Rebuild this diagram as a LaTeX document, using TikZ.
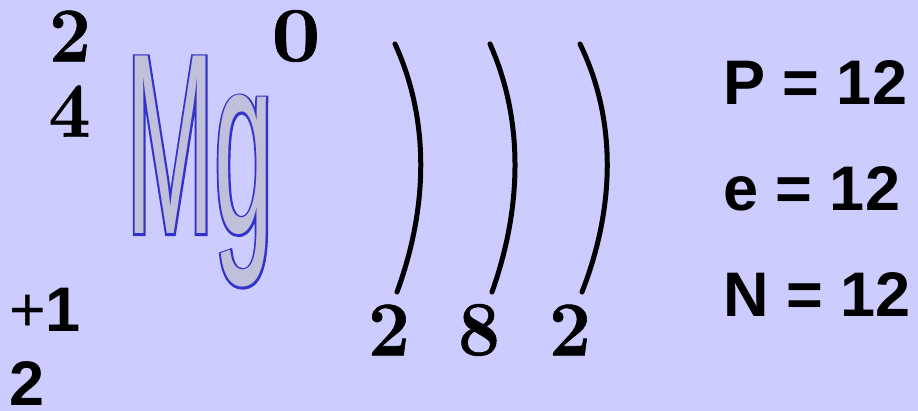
\documentclass[tikz,border=0pt]{standalone}
\usepackage{fontspec}
\newfontfamily\arialfont{Liberation Sans}
\newfontfamily\mgoutline[FakeStretch=0.41, FakeBold=1.6]{Liberation Sans}
\newfontfamily\mgfont[FakeStretch=0.41]{Liberation Sans}
\newfontfamily\digitfont[BoldFeatures={FakeBold=0.8}]{Latin Modern Roman}
\definecolor{bgcol}{RGB}{204,204,255}
\definecolor{mgfill}{RGB}{192,192,218}
\definecolor{mgblue}{RGB}{51,51,204}
\tikzset{
  serifdigit/.style={inner sep=0pt, font=\digitfont\bfseries\fontsize{62}{62}\selectfont, xscale=1.2, yscale=1.25},
  sanslabel/.style={inner sep=0pt, anchor=base west, font=\arialfont\bfseries\fontsize{63}{63}\selectfont},
  shell/.style={line width=5pt, line cap=round}
}
\begin{document}
\begin{tikzpicture}[x=1pt,y=-1pt]
\useasboundingbox (0,0) rectangle (918,411);
\fill[bgcol] (0,0) rectangle (918,411);
% numbers around symbol
\node[serifdigit] (mass) at (70,36) {2};
\node[serifdigit] (four) at (69.5,111) {4};
\node[serifdigit, xscale=1.4/1.2] (ox) at (296,36) {0};
% symbol
\node[inner sep=0pt, anchor=base west, font=\fontsize{258}{258}\selectfont] (mg) at (126,234)
  {\rlap{\mgoutline\textcolor{mgblue}{Mg}}\mgfont\textcolor{mgfill}{Mg}};
% bottom-left
\node[sanslabel] (charge) at (9,332) {{\mdseries +}1};
\node[sanslabel] (two) at (9,406) {2};
% shells
\coordinate (a1) at (395,44); \coordinate (a2) at (397,292);
\coordinate (b1) at (490,44); \coordinate (b2) at (492,292);
\coordinate (c1) at (580,44); \coordinate (c2) at (582,292);
\draw[shell] (a1) .. controls (429,118) and (429,205) .. (a2);
\draw[shell] (b1) .. controls (523,118) and (523,205) .. (b2);
\draw[shell] (c1) .. controls (616,118) and (616,205) .. (c2);
\node[serifdigit] (e1) at (389,330) {2};
\node[serifdigit] (e2) at (479,330) {8};
\node[serifdigit] (e3) at (570,330) {2};
% right
\node[sanslabel] (p) at (723,105) {P = 12};
\node[sanslabel] (e) at (723,211) {e = 12};
\node[sanslabel] (n) at (723,317) {N = 12};
\end{tikzpicture}
\end{document}
